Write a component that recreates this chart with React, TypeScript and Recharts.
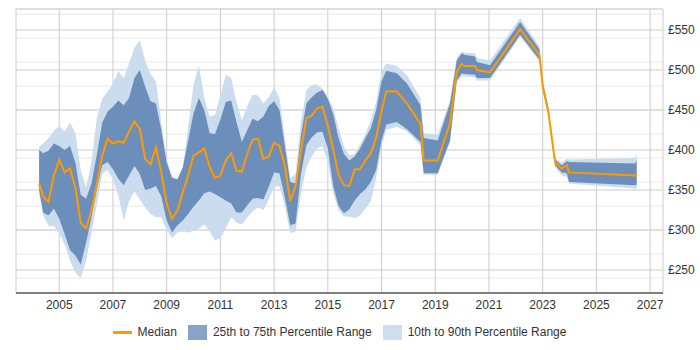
import { ComposedChart, Area, Line, XAxis, YAxis, CartesianGrid, Legend } from 'recharts'

// sample dates (decimal years)
const years = [
  2004.25, 2004.4, 2004.6, 2004.8, 2005.0, 2005.2, 2005.4, 2005.6, 2005.8, 2006.0,
  2006.2, 2006.4, 2006.6, 2006.8, 2007.0, 2007.2, 2007.4, 2007.6, 2007.8, 2008.0,
  2008.2, 2008.4, 2008.6, 2008.8, 2009.0, 2009.2, 2009.4, 2009.6, 2009.8, 2010.0,
  2010.2, 2010.4, 2010.6, 2010.8, 2011.0, 2011.2, 2011.4, 2011.6, 2011.8, 2012.0,
  2012.2, 2012.4, 2012.6, 2012.8, 2013.0, 2013.2, 2013.4, 2013.6, 2013.8, 2014.0,
  2014.2, 2014.4, 2014.6, 2014.8, 2015.0, 2015.2, 2015.4, 2015.6, 2015.8, 2016.0,
  2016.2, 2016.4, 2016.6, 2016.8, 2017.0,
  2017.18, 2017.57, 2017.95, 2018.45, 2018.57, 2019.09, 2019.55, 2019.8, 2019.99, 2020.08,
  2020.48, 2020.55, 2021.04, 2022.16, 2022.88, 2023.0, 2023.21, 2023.46, 2023.71, 2023.9,
  2023.98, 2026.44, 2026.5,
]

const median = [
  358, 342, 335, 368, 388, 372, 377, 353, 309, 302,
  324, 357, 393, 414, 408, 411, 409, 423, 436, 426,
  389, 382, 403, 372, 333, 314, 324, 347, 368, 393,
  397, 402, 379, 365, 368, 387, 396, 374, 373, 395,
  413, 414, 389, 392, 409, 405, 380, 336, 355, 399,
  440, 443, 452, 454, 430, 401, 369, 356, 355, 376,
  376, 387, 396, 415, 449,
  473, 473, 458, 433, 387, 387, 433, 498, 508, 505,
  505, 500, 497, 551, 519, 480, 448, 385, 377, 381,
  372, 368, 370,
]

const p25 = [
  350, 322, 318, 327, 314, 295, 275, 268, 257, 284,
  316, 351, 381, 385, 376, 364, 356, 368, 380, 370,
  350, 352, 355, 342, 312, 297, 306, 312, 320, 329,
  337, 346, 348, 345, 341, 337, 333, 322, 322, 331,
  339, 340, 338, 354, 372, 371, 341, 306, 308, 370,
  406, 416, 422, 423, 402, 355, 330, 321, 326, 337,
  345, 351, 360, 375, 412,
  432, 435, 426, 410, 371, 371, 412, 487, 496, 495,
  494, 490, 490, 544, 513, 476, 444, 381, 372, 371,
  360, 356, 357,
]

const p75 = [
  400, 396, 399, 408, 405, 400, 405, 384, 344, 339,
  358, 394, 434, 448, 454, 462, 456, 465, 490, 500,
  479, 461, 458, 425, 385, 365, 363, 378, 412, 446,
  465, 450, 421, 420, 438, 460, 462, 435, 410, 425,
  439, 436, 442, 455, 461, 450, 405, 360, 358, 418,
  458, 466, 472, 475, 464, 445, 415, 395, 387, 392,
  402, 415, 427, 450, 486,
  499, 496, 483, 456, 415, 412, 458, 512, 521, 519,
  517, 510, 506, 560, 526, 484, 452, 388, 381, 386,
  385, 383, 387,
]

const p10 = [
  346, 318, 305, 305, 296, 282, 262, 247, 240, 262,
  297, 332, 370, 375, 363, 343, 312, 336, 348, 338,
  328, 320, 316, 316, 300, 290, 297, 298, 297, 299,
  302, 307, 298, 287, 290, 302, 316, 309, 307, 316,
  323, 328, 325, 338, 354, 355, 330, 296, 298, 345,
  378, 392, 402, 405, 385, 346, 325, 317, 317, 315,
  318, 327, 336, 365, 404,
  425, 429, 423, 406, 369, 369, 410, 485, 492, 492,
  491, 487, 487, 542, 510, 473, 441, 378, 368, 366,
  358, 352, 351,
]

const p90 = [
  404, 408, 415, 424, 430, 423, 434, 422, 375, 353,
  385, 440, 464, 473, 483, 498, 490, 508, 528, 537,
  512, 495, 486, 435, 387, 367, 364, 378, 428, 482,
  505, 465, 442, 444, 468, 494, 490, 460, 437, 455,
  469, 468, 458, 466, 478, 465, 415, 365, 370, 435,
  475, 481, 482, 477, 467, 452, 428, 404, 393, 395,
  407, 420, 437, 460, 498,
  508, 505, 493, 465, 421, 419, 462, 515, 523, 522,
  521, 515, 512, 565, 529, 488, 455, 390, 384, 389,
  388, 390, 395,
]

const yearTicks = [2005, 2007, 2009, 2011, 2013, 2015, 2017, 2019, 2021, 2023, 2025, 2027]
const priceTicks = [250, 300, 350, 400, 450, 500, 550]
const minorTicks = [
  230, 240, 250, 260, 270, 280, 290, 300, 310, 320, 330, 340, 350, 360, 370, 380, 390,
  400, 410, 420, 430, 440, 450, 460, 470, 480, 490, 500, 510, 520, 530, 540, 550, 560, 570,
]

const ORANGE = '#ff9900'
const DARK = '#6b8fba'
const LIGHT = '#cbdcee'
const TEXT = '#333'

const data = years.map((year, i) => ({
  year,
  median: median[i],
  mid: [p25[i], p75[i]],
  wide: [p10[i], p90[i]],
}))

const renderLegend = () => (
  <div
    style={{
      display: 'flex',
      justifyContent: 'center',
      alignItems: 'center',
      height: 32,
      boxSizing: 'border-box',
      paddingBottom: 4,
      fontSize: 12,
      color: TEXT,
    }}
  >
    <span style={{ display: 'inline-block', width: 19, height: 3, background: ORANGE, marginRight: 6 }} />
    <span style={{ marginRight: 11 }}>Median</span>
    <span style={{ display: 'inline-block', width: 19, height: 15, background: '#87a3c5', marginRight: 6 }} />
    <span style={{ marginRight: 11 }}>25th to 75th Percentile Range</span>
    <span style={{ display: 'inline-block', width: 19, height: 15, background: '#cfdeee', marginRight: 6 }} />
    <span>10th to 90th Percentile Range</span>
  </div>
)

export default function App() {
  return (
    <div style={{ position: 'absolute', left: 0, top: 0, fontFamily: '"Liberation Sans", Arial, sans-serif' }}>
      <ComposedChart width={700} height={350} data={data} margin={{ top: 9, right: 0, bottom: 0, left: 16 }}>
        <YAxis yAxisId="minor" hide type="number" domain={[221.25, 576.25]} ticks={minorTicks} allowDataOverflow />
        <CartesianGrid yAxisId="minor" vertical={false} stroke="#e8e8e8" />
        <CartesianGrid stroke="#cccccc" />
        <XAxis
          dataKey="year"
          type="number"
          domain={[2003.39, 2027.48]}
          ticks={yearTicks}
          allowDataOverflow
          height={25}
          tickLine={false}
          tickSize={0}
          tickMargin={7}
          axisLine={{ stroke: '#222' }}
          tick={{ fill: TEXT, fontSize: 12 }}
        />
        <YAxis
          orientation="right"
          type="number"
          domain={[221.25, 576.25]}
          ticks={priceTicks}
          allowDataOverflow
          width={37}
          axisLine={false}
          tickLine={false}
          tickSize={0}
          tickMargin={5}
          tickFormatter={(v: number) => `£${v}`}
          tick={{ fill: TEXT, fontSize: 12, textAnchor: 'start' }}
        />
        <Area
          dataKey="wide"
          type="linear"
          stroke="none"
          fill={LIGHT}
          fillOpacity={1}
          isAnimationActive={false}
        />
        <Area
          dataKey="mid"
          type="linear"
          stroke="none"
          fill={DARK}
          fillOpacity={1}
          isAnimationActive={false}
        />
        <Line
          dataKey="median"
          type="linear"
          stroke={ORANGE}
          strokeWidth={2}
          dot={false}
          isAnimationActive={false}
        />
        <Legend verticalAlign="bottom" content={renderLegend} wrapperStyle={{ left: 16, width: 647 }} />
      </ComposedChart>
    </div>
  )
}
